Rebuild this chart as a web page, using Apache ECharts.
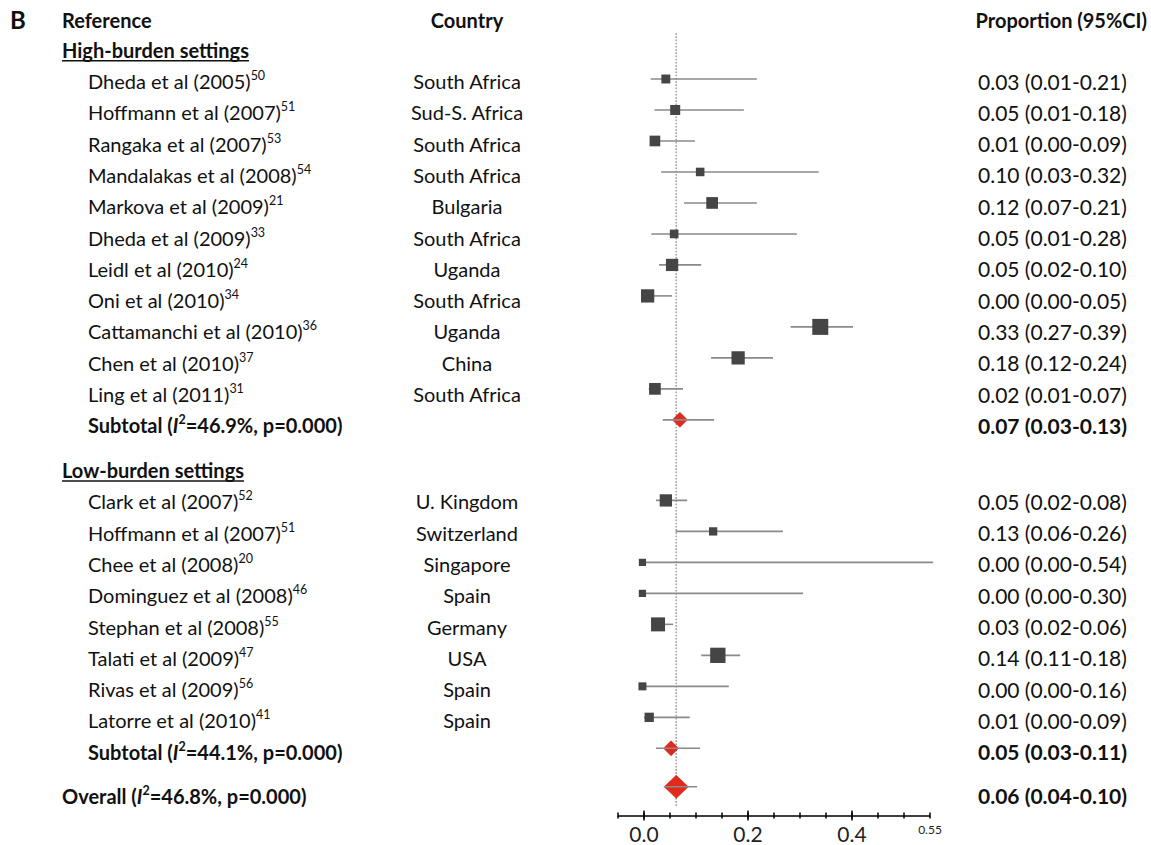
<!DOCTYPE html>
<html><head><meta charset="utf-8">
<script src="https://cdn.jsdelivr.net/npm/echarts@6/dist/echarts.min.js"></script>
<style>html,body{margin:0;padding:0;background:#fff}#c{width:1151px;height:845px}</style>
</head><body><div id="c"></div>
<script>
// ---------- DATA ----------
const highNames = ['Dheda et al (2005)','Hoffmann et al (2007)','Rangaka et al (2007)','Mandalakas et al (2008)','Markova et al (2009)','Dheda et al (2009)','Leidl et al (2010)','Oni et al (2010)','Cattamanchi et al (2010)','Chen et al (2010)','Ling et al (2011)'];
const highRefs = ['50','51','53','54','21','33','24','34','36','37','31'];
const highCountries = ['South Africa','Sud-S. Africa','South Africa','South Africa','Bulgaria','South Africa','Uganda','South Africa','Uganda','China','South Africa'];
const highProp = [0.03,0.05,0.01,0.10,0.12,0.05,0.05,0.00,0.33,0.18,0.02];
const highLo   = [0.01,0.01,0.00,0.03,0.07,0.01,0.02,0.00,0.27,0.12,0.01];
const highHi   = [0.21,0.18,0.09,0.32,0.21,0.28,0.10,0.05,0.39,0.24,0.07];
const highMarkEst = [0.042,0.060,0.021,0.108,0.131,0.058,0.054,0.007,0.339,0.181,0.021];
const highMarkLo  = [0.013,0.020,0.012,0.033,0.077,0.014,0.029,0.000,0.282,0.129,0.009];
const highMarkHi  = [0.217,0.192,0.098,0.336,0.217,0.294,0.110,0.054,0.402,0.248,0.075];
const highWeight  = [3.5,4.4,5.0,3.2,6.0,3.3,6.6,7.7,11.2,7.7,6.0];

const lowNames = ['Clark et al (2007)','Hoffmann et al (2007)','Chee et al (2008)','Dominguez et al (2008)','Stephan et al (2008)','Talati et al (2009)','Rivas et al (2009)','Latorre et al (2010)'];
const lowRefs = ['52','51','20','46','55','47','56','41'];
const lowCountries = ['U. Kingdom','Switzerland','Singapore','Spain','Germany','USA','Spain','Spain'];
const lowProp = [0.05,0.13,0.00,0.00,0.03,0.14,0.00,0.01];
const lowLo   = [0.02,0.06,0.00,0.00,0.02,0.11,0.00,0.00];
const lowHi   = [0.08,0.26,0.54,0.30,0.06,0.18,0.16,0.09];
const lowMarkEst = [0.042,0.133,-0.003,-0.003,0.027,0.142,-0.003,0.010];
const lowMarkLo  = [0.023,0.061,-0.003,-0.003,0.015,0.110,-0.003,0.000];
const lowMarkHi  = [0.083,0.267,0.556,0.306,0.056,0.185,0.163,0.088];
const lowWeight  = [6.6,3.0,2.3,2.3,8.6,10.3,2.8,3.8];

const groupTitles = ['High-burden settings','Low-burden settings'];
const summaryLabels = ['Subtotal','Subtotal','Overall'];
const summaryI2 = ['46.9','44.1','46.8'];
const summaryP = ['0.000','0.000','0.000'];
const summaryProp = [0.07,0.05,0.06];
const summaryLo   = [0.03,0.03,0.04];
const summaryHi   = [0.13,0.11,0.10];
const summaryMarkEst = [0.069,0.052,0.062];
const summaryMarkLo  = [0.036,0.023,0.038];
const summaryMarkHi  = [0.135,0.108,0.102];

const axisTickValues = [-0.05,0,0.05,0.1,0.15,0.2,0.25,0.3,0.35,0.4,0.45,0.5,0.55];
const axisMajorValues = [0,0.2,0.4];
const axisLabelValues = [0,0.2,0.4,0.55];

// ---------- LAYOUT ----------
const FONT = 'Lato';
const FS = 20;
const FSV = 21;
const FSS = 12.5;
const COL = '#111';
const xGroup = 62, xStudy = 88, xCountry = 467, xValue = 978, xPropHead = 1147;

function fmt(p, lo, hi){ return p.toFixed(2)+' ('+lo.toFixed(2)+'-'+hi.toFixed(2)+')'; }

const textRows = [];
const markRows = [];
(function build(){
  let ty = 0;
  let my = 0.936;
  const mStep = 0.99;
  textRows.push({kind:'head', y:-0.95});
  const groups = [
    {names:highNames, refs:highRefs, countries:highCountries, p:highProp, lo:highLo, hi:highHi, me:highMarkEst, ml:highMarkLo, mh:highMarkHi, w:highWeight},
    {names:lowNames, refs:lowRefs, countries:lowCountries, p:lowProp, lo:lowLo, hi:lowHi, me:lowMarkEst, ml:lowMarkLo, mh:lowMarkHi, w:lowWeight}
  ];
  groups.forEach((g, gi) => {
    if (gi === 1) { ty += 1.43; my += 2.574 - mStep; }
    textRows.push({kind:'group', y:ty, text:groupTitles[gi]});
    g.names.forEach((n, i) => {
      ty += 1; if (!(gi===0 && i===0)) my += mStep;
      textRows.push({kind:'study', y:ty, name:n, ref:g.refs[i], country:g.countries[i], val:fmt(g.p[i], g.lo[i], g.hi[i])});
      markRows.push({est:g.me[i], lo:g.ml[i], hi:g.mh[i], y:my, w:g.w[i], summary:false});
    });
    ty += 1; my += mStep;
    textRows.push({kind:'subtotal', y:ty, i2:summaryI2[gi], pv:summaryP[gi], label:summaryLabels[gi], val:fmt(summaryProp[gi], summaryLo[gi], summaryHi[gi])});
    markRows.push({est:summaryMarkEst[gi], lo:summaryMarkLo[gi], hi:summaryMarkHi[gi], y:my, summary:true, big:false});
  });
  ty += 1.4; my += 1.23;
  textRows.push({kind:'overall', y:ty, i2:summaryI2[2], pv:summaryP[2], label:summaryLabels[2], val:fmt(summaryProp[2], summaryLo[2], summaryHi[2])});
  markRows.push({est:summaryMarkEst[2], lo:summaryMarkLo[2], hi:summaryMarkHi[2], y:my, summary:true, big:true});
})();

const refLineTop = -0.53, refLineBottom = 24.2;

const rich = {
  n: {fontFamily:FONT, fontSize:FS, color:COL, lineHeight:24},
  v: {fontFamily:FONT, fontSize:FSV, color:COL, lineHeight:24},
  vb:{fontFamily:FONT, fontSize:FSV, color:COL, fontWeight:'bold', lineHeight:24},
  s: {fontFamily:FONT, fontSize:FSS, color:COL, lineHeight:15, verticalAlign:'top'},
  b: {fontFamily:FONT, fontSize:FS, color:COL, fontWeight:'bold', lineHeight:24},
  bi:{fontFamily:FONT, fontSize:FS, color:COL, fontWeight:'bold', fontStyle:'italic', lineHeight:24},
  bs:{fontFamily:FONT, fontSize:FSS, color:COL, fontWeight:'bold', lineHeight:15, verticalAlign:'top'}
};

const measureCtx = document.createElement('canvas').getContext('2d');
function textWidth(str, font){ measureCtx.font = font; return measureCtx.measureText(str).width; }

function txt(x, y, text, align, extra){
  return {type:'text', x:x, y:y, style:Object.assign({text:text, rich:rich, align:align||'left', verticalAlign:'middle', fontFamily:FONT, fontSize:FS, fill:COL}, extra||{})};
}

function renderText(params, api){
  const r = textRows[params.dataIndex];
  const y = api.coord([0, r.y])[1];
  const ch = [];
  if (r.kind === 'head') {
    ch.push(txt(10, y, 'B', 'left', {fontWeight:'bold', fontSize:24}));
    ch.push(txt(xGroup, y, '{b|Reference}'));
    ch.push(txt(xCountry, y, '{b|Country}', 'center'));
    ch.push(txt(xPropHead, y, '{b|Proportion (95%CI)}', 'right'));
  } else if (r.kind === 'group') {
    ch.push(txt(xGroup, y, '{b|'+r.text+'}'));
    const w = textWidth(r.text, 'bold '+FS+'px '+FONT);
    ch.push({type:'line', shape:{x1:xGroup, y1:y+11, x2:xGroup+w, y2:y+11}, style:{stroke:COL, lineWidth:1.6}});
  } else if (r.kind === 'study') {
    ch.push(txt(xStudy, y, '{n|'+r.name+'}{s|'+r.ref+'}'));
    ch.push(txt(xCountry, y, '{n|'+r.country+'}', 'center'));
    ch.push(txt(xValue, y, '{v|'+r.val+'}'));
  } else {
    const x = r.kind === 'overall' ? xGroup : xStudy;
    ch.push(txt(x, y, '{b|'+r.label+' (}{bi|I}{bs|2}{b|='+r.i2+'%, p='+r.pv+')}'));
    ch.push(txt(xValue, y, '{vb|'+r.val+'}'));
  }
  return {type:'group', children:ch};
}

function renderCI(params, api){
  const lo = api.value(0), hi = api.value(1), yv = api.value(2);
  const p1 = api.coord([lo, yv]), p2 = api.coord([hi, yv]);
  return {type:'line', shape:{x1:p1[0], y1:p1[1], x2:p2[0], y2:p2[1]}, style:{stroke:'#8a8a8a', lineWidth:1.6}};
}

const studyMarks = markRows.filter(m => !m.summary);
const summaryMarks = markRows.filter(m => m.summary);

const chart = echarts.init(document.getElementById('c'), null, {renderer:'svg'});
const Y_MIN = -1.5, Y_MAX = 24.47, UNIT = 31.3, TOP = 2.75;

const baseX = {type:'value', min:-0.05, max:0.55, gridIndex:0, position:'bottom', offset:0, splitLine:{show:false}, axisLabel:{show:false}, axisLine:{show:false, onZero:false}, axisTick:{show:false}};
const tickStyle = {color:'#000', width:1.5};
const option = {
  backgroundColor:'#fff',
  animation:false,
  grid:{left:618, width:312, top:TOP, height:(Y_MAX-Y_MIN)*UNIT, containLabel:false},
  xAxis:[
    Object.assign({}, baseX, {
      axisLine:{show:true, onZero:false, lineStyle:{color:'#000', width:1.5}},
      axisTick:{show:true, customValues:axisTickValues, length:3, inside:false, lineStyle:tickStyle},
      axisLabel:{show:true, customValues:axisLabelValues, margin:6, verticalAlign:'top',
        formatter:function(v){ const r = Math.round(v*100)/100; return r===0.55 ? '{s|0.55}' : '{b|'+r.toFixed(1)+'}'; },
        rich:{b:{fontFamily:FONT, fontSize:21, color:'#222', lineHeight:22, verticalAlign:'bottom'}, s:{fontFamily:FONT, fontSize:12, color:'#222', lineHeight:14, verticalAlign:'bottom'}}}
    }),
    Object.assign({}, baseX, {axisTick:{show:true, customValues:axisTickValues, length:3, inside:true, lineStyle:tickStyle}}),
    Object.assign({}, baseX, {axisTick:{show:true, customValues:axisMajorValues, length:5, inside:false, lineStyle:tickStyle}}),
    Object.assign({}, baseX, {axisTick:{show:true, customValues:axisMajorValues, length:5, inside:true, lineStyle:tickStyle}})
  ],
  yAxis:{type:'value', inverse:true, min:Y_MIN, max:Y_MAX, show:false},
  series:[
    {type:'line', xAxisIndex:0, data:[[summaryMarkEst[2], refLineTop],[summaryMarkEst[2], refLineBottom]], symbol:'none', lineStyle:{color:'#a0a0a0', width:1.6, type:[1.6,1.6]}, z:1, silent:true},
    {type:'custom', xAxisIndex:0, renderItem:renderCI, data:studyMarks.map(m => [m.lo, m.hi, m.y]), z:2, silent:true},
    {type:'scatter', xAxisIndex:0, symbol:'rect', data:studyMarks.map(m => [m.est, m.y, m.w]), symbolSize:function(v){ return Math.sqrt(v[2]*22.83); }, itemStyle:{color:'#454545', opacity:1}, z:3, silent:true},
    {type:'scatter', xAxisIndex:0, symbol:'diamond', data:summaryMarks.map(m => ({value:[m.est, m.y], symbolSize: m.big ? [24,23] : [15,15]})), itemStyle:{color:'#e3281c', borderColor:'#c81e14', borderWidth:0.6, opacity:1}, z:4, silent:true},
    {type:'custom', xAxisIndex:0, renderItem:renderCI, data:summaryMarks.map(m => [m.lo, m.hi, m.y]), z:5, silent:true, itemStyle:{opacity:0.7}},
    {type:'custom', xAxisIndex:0, renderItem:renderText, clip:false, data:textRows.map(r => [0, r.y]), z:6, silent:true}
  ]
};
chart.setOption(option);
</script>
</body></html>
